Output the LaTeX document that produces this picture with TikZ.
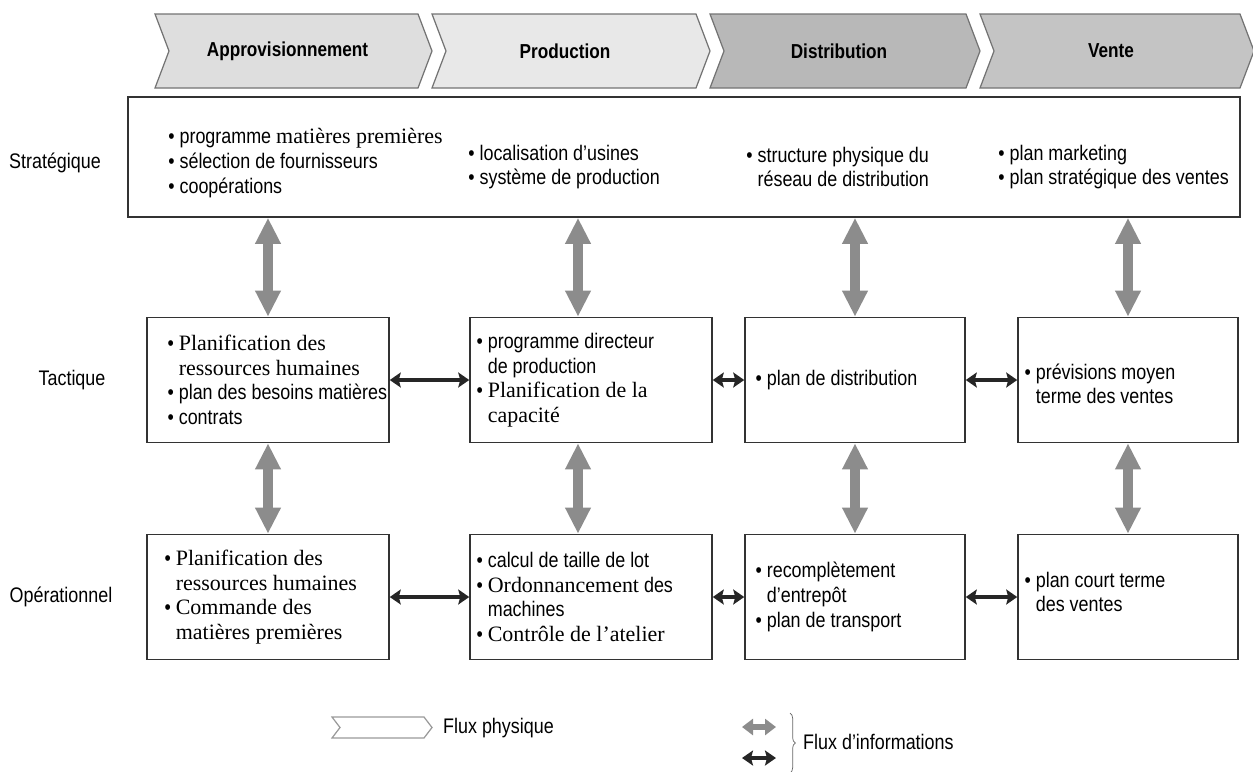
\documentclass[tikz,border=0pt]{standalone}
\usepackage{fontspec}
\setmainfont{Liberation Sans}[FakeStretch=0.85]
\newfontfamily\serifrm{Liberation Serif}
\usetikzlibrary{arrows.meta}
\usetikzlibrary{decorations.pathreplacing}

\newcommand\bul{\textbullet\ }
\newcommand\cont{\hphantom{\textbullet\ }}
\newcommand\rmtxt[1]{{\serifrm\fontsize{12.5}{14}\selectfont #1}}

% one chevron of the chain: left x, right x, fill, label, name
\newcommand\phase[5]{%
  \draw[phasebox, fill=#3] (#1,14) -- (#2,14) -- ++(14,37) -- (#2,88)
    -- (#1,88) -- ++(14,-37) -- cycle;
  \node[phaselabel] (#5) at ({(#1+#2+14)/2-6},51) {#4};
}

\begin{document}
\begin{tikzpicture}[
    x=0.02cm, y=-0.02cm,
    every node/.style={font=\fontsize{12}{14}\selectfont},
    phasebox/.style={draw=black!55, line width=0.7pt},
    phaselabel/.style={font=\bfseries\fontsize{11.5}{13}\selectfont},
    cell/.style={draw=black!80, line width=0.9pt, minimum height=2.5cm},
    widecell/.style={cell, minimum width=4.84cm},
    narrowcell/.style={cell, minimum width=4.4cm},
    txt/.style={anchor=west, align=left, inner sep=0pt},
    info/.style={{Triangle[length=0.52cm,width=0.48cm]}-{Triangle[length=0.52cm,width=0.48cm]},
      draw=black!45, line width=0.2cm},
    infosmall/.style={{Triangle[length=0.22cm,width=0.32cm]}-{Triangle[length=0.22cm,width=0.32cm]},
      draw=black!45, line width=0.12cm},
    link/.style={{Stealth[length=0.22cm,width=0.3cm,inset=0.04cm]}-{Stealth[length=0.22cm,width=0.3cm,inset=0.04cm]},
      draw=black!85, line width=2pt},
  ]
  \useasboundingbox (0,0) rectangle (1253,771);

  % Chain of phases
  \phase{155}{418}{black!13}{Approvisionnement}{appro}
  \phase{432}{696}{black!9}{Production}{prod}
  \phase{710}{966}{black!28}{Distribution}{distr}
  \phase{980}{1240}{black!23}{Vente}{vente}

  % Levels
  \node (lstrat) at (55,163) {Stratégique};
  \node (ltact)  at (72,380) {Tactique};
  \node (loper)  at (61,597) {Opérationnel};

  % Strategic level
  \node[cell, minimum width=22.24cm, minimum height=2.4cm] (strat) at (684,157) {};
  \node[txt] (s1) at (168,163)
    {\bul programme \rmtxt{matières premières}\\ \bul sélection de fournisseurs\\ \bul coopérations};
  \node[txt] (s2) at (468,167)
    {\bul localisation d’usines\\ \bul système de production};
  \node[txt] (s3) at (746,167)
    {\bul structure physique du\\ \cont réseau de distribution};
  \node[txt] (s4) at (998,167)
    {\bul plan marketing\\ \bul plan stratégique des ventes};

  % Tactical level
  \node[widecell]   (t1) at (268,380) {};
  \node[widecell]   (t2) at (591,380) {};
  \node[narrowcell] (t3) at (855,380) {};
  \node[narrowcell] (t4) at (1128,380) {};
  \node[txt] (t1x) at ([xshift=0.42cm]t1.west)
    {\bul\rmtxt{Planification des}\\ \cont\rmtxt{ressources humaines}\\
     \bul plan des besoins matières\\ \bul contrats};
  \node[txt] (t2x) at ([xshift=0.14cm]t2.west)
    {\bul programme directeur\\ \cont de production\\
     \bul\rmtxt{Planification de la}\\ \cont\rmtxt{capacité}};
  \node[txt] (t3x) at ([xshift=0.22cm]t3.west) {\bul plan de distribution};
  \node[txt] (t4x) at ([xshift=0.14cm,yshift=-0.08cm]t4.west)
    {\bul prévisions moyen\\ \cont terme des ventes};

  % Operational level
  \node[widecell]   (o1) at (268,597) {};
  \node[widecell]   (o2) at (591,597) {};
  \node[narrowcell] (o3) at (855,597) {};
  \node[narrowcell] (o4) at (1128,597) {};
  \node[txt] (o1x) at ([xshift=0.36cm]o1.west)
    {\bul\rmtxt{Planification des}\\ \cont\rmtxt{ressources humaines}\\
     \bul\rmtxt{Commande des}\\ \cont\rmtxt{matières premières}};
  \node[txt] (o2x) at ([xshift=0.14cm]o2.west)
    {\bul calcul de taille de lot\\ \bul\rmtxt{Ordonnancement} des\\
     \cont machines\\ \bul\rmtxt{Contrôle de l’atelier}};
  \node[txt] (o3x) at ([xshift=0.22cm]o3.west)
    {\bul recomplètement\\ \cont d’entrepôt\\ \bul plan de transport};
  \node[txt] (o4x) at ([xshift=0.14cm,yshift=0.1cm]o4.west)
    {\bul plan court terme\\ \cont des ventes};

  % Information flows between levels
  \coordinate (c2t) at ([xshift=-0.26cm]t2.north);
  \coordinate (c2b) at ([xshift=-0.26cm]t2.south);
  \coordinate (c2o) at ([xshift=-0.26cm]o2.north);
  \draw[info] (strat.south -| t1.north) -- (t1.north);
  \draw[info] (strat.south -| c2t) -- (c2t);
  \draw[info] (strat.south -| t3.north) -- (t3.north);
  \draw[info] (strat.south -| t4.north) -- (t4.north);
  \draw[info] (t1.south) -- (o1.north);
  \draw[info] (c2b) -- (c2o);
  \draw[info] (t3.south) -- (o3.north);
  \draw[info] (t4.south) -- (o4.north);

  % Information flows between phases
  \draw[link] (t1.east) -- (t2.west);
  \draw[link] (t2.east) -- (t3.west);
  \draw[link] (t3.east) -- (t4.west);
  \draw[link] (o1.east) -- (o2.west);
  \draw[link] (o2.east) -- (o3.west);
  \draw[link] (o3.east) -- (o4.west);

  % Legend
  \draw[phasebox, draw=black!40] (332,717) -- (424,717) -- ++(8,10.5) -- (424,738)
    -- (332,738) -- ++(8,-10.5) -- cycle;
  \node[anchor=west] (lphys) at (437,728) {Flux physique};
  \coordinate (g1) at (742,727);
  \coordinate (g2) at (776,727);
  \coordinate (k1) at (742,758);
  \coordinate (k2) at (776,758);
  \draw[infosmall] (g1) -- (g2);
  \draw[link] (k1) -- (k2);
  \coordinate (br1) at (790,713);
  \coordinate (br2) at (790,773);
  \draw[black!60, decorate, decoration={brace, amplitude=3pt}] (br1) -- (br2);
  \node[anchor=west] (linfo) at (797,742) {Flux d’informations};
\end{tikzpicture}
\end{document}
